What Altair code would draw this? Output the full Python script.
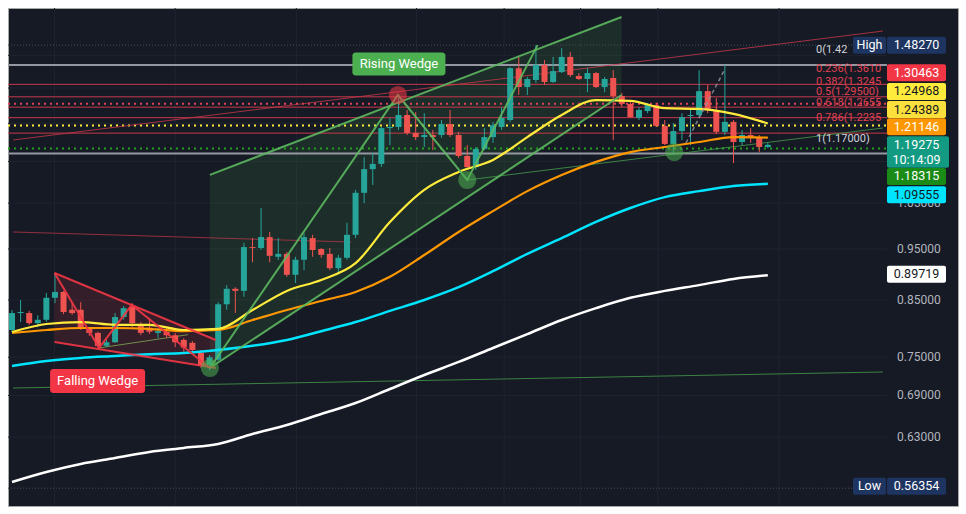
import altair as alt
import pandas as pd

# ---------------- data ----------------
candle_open = [0.796, 0.826, 0.826, 0.808, 0.814, 0.854, 0.865, 0.832, 0.832, 0.800,
               0.791, 0.769, 0.775, 0.819, 0.837, 0.805, 0.800, 0.791, 0.793, 0.787,
               0.779, 0.774, 0.757, 0.7375, 0.746, 0.842, 0.871, 0.867, 0.954, 0.952,
               0.975, 0.934, 0.940, 0.898, 0.928, 0.973, 0.950, 0.940, 0.911, 0.932,
               0.980, 1.074, 1.131, 1.144, 1.237, 1.240, 1.273, 1.224, 1.213, 1.2185,
               1.2185, 1.248, 1.2185, 1.164, 1.136, 1.182, 1.213, 1.240, 1.259, 1.410,
               1.353, 1.374, 1.420, 1.368, 1.398, 1.445, 1.386, 1.377, 1.395, 1.353,
               1.380, 1.327, 1.304, 1.265, 1.284, 1.301, 1.243, 1.195, 1.229, 1.270,
               1.273, 1.341, 1.287, 1.227, 1.254, 1.200, 1.2185, 1.213, 1.187]
candle_high = [0.8315, 0.850, 0.830, 0.822, 0.863, 0.9015, 0.867, 0.846, 0.846, 0.801,
               0.793, 0.779, 0.826, 0.839, 0.844, 0.810, 0.817, 0.800, 0.800, 0.791,
               0.782, 0.777, 0.762, 0.754, 0.846, 0.878, 0.874, 0.963, 0.973, 1.039,
               0.986, 0.973, 0.944, 0.934, 0.984, 0.980, 0.952, 0.952, 0.938, 1.006,
               1.081, 1.161, 1.172, 1.240, 1.265, 1.321, 1.287, 1.281, 1.278, 1.232,
               1.259, 1.287, 1.227, 1.192, 1.187, 1.237, 1.254, 1.295, 1.413, 1.445,
               1.383, 1.4827, 1.435, 1.445, 1.473, 1.461, 1.395, 1.410, 1.398, 1.383,
               1.404, 1.336, 1.315, 1.295, 1.307, 1.307, 1.259, 1.251, 1.278, 1.292,
               1.404, 1.359, 1.321, 1.420, 1.259, 1.232, 1.237, 1.2185, 1.198]
candle_low = [0.7925, 0.810, 0.805, 0.801, 0.810, 0.844, 0.824, 0.823, 0.796, 0.786,
              0.766, 0.767, 0.774, 0.814, 0.801, 0.787, 0.789, 0.782, 0.782, 0.767,
              0.759, 0.759, 0.733, 0.729, 0.744, 0.832, 0.826, 0.856, 0.923, 0.948,
              0.923, 0.9275, 0.894, 0.882, 0.907, 0.934, 0.932, 0.907, 0.903, 0.928,
              0.973, 1.050, 1.0925, 1.136, 1.192, 1.232, 1.2185, 1.205, 1.187, 1.179,
              1.211, 1.213, 1.159, 1.129, 1.129, 1.179, 1.198, 1.232, 1.254, 1.330,
              1.330, 1.365, 1.359, 1.365, 1.395, 1.383, 1.374, 1.338, 1.350, 1.338,
              1.205, 1.295, 1.265, 1.259, 1.278, 1.240, 1.192, 1.172, 1.205, 1.192,
              1.267, 1.278, 1.221, 1.2185, 1.146, 1.192, 1.198, 1.174, 1.184]
candle_close = [0.826, 0.828, 0.808, 0.814, 0.854, 0.865, 0.828, 0.826, 0.800, 0.791,
                0.769, 0.775, 0.819, 0.835, 0.808, 0.791, 0.793, 0.794, 0.787, 0.775,
                0.766, 0.762, 0.736, 0.750, 0.842, 0.871, 0.867, 0.954, 0.952, 0.975,
                0.936, 0.940, 0.898, 0.928, 0.975, 0.948, 0.938, 0.911, 0.932, 0.980,
                1.074, 1.131, 1.144, 1.237, 1.240, 1.273, 1.224, 1.213, 1.2185, 1.213,
                1.248, 1.2185, 1.164, 1.136, 1.182, 1.213, 1.245, 1.265, 1.410, 1.353,
                1.377, 1.420, 1.368, 1.401, 1.445, 1.389, 1.377, 1.395, 1.353, 1.377,
                1.327, 1.304, 1.267, 1.287, 1.301, 1.243, 1.195, 1.229, 1.267, 1.273,
                1.341, 1.287, 1.227, 1.254, 1.200, 1.2185, 1.213, 1.187, 1.19275]

ma_index = list(range(0, 89, 4))
ma_yellow = [0.7925, 0.8065, 0.810, 0.805, 0.805, 0.796, 0.798, 0.8315, 0.867, 0.888, 0.921, 1.0077,
             1.081, 1.124, 1.154, 1.213, 1.273, 1.315, 1.313, 1.292, 1.290, 1.276, 1.24968]
ma_orange = [0.791, 0.796, 0.7995, 0.7995, 0.798, 0.794, 0.796, 0.8136, 0.8315, 0.848, 0.865, 0.894,
             0.9376, 0.986, 1.032, 1.078, 1.1166, 1.149, 1.174, 1.187, 1.200, 1.213, 1.21146]
ma_cyan = [0.7359, 0.744, 0.749, 0.752, 0.755, 0.757, 0.762, 0.769, 0.779, 0.794, 0.810, 0.830,
           0.850, 0.874, 0.905, 0.940, 0.973, 1.008, 1.039, 1.064, 1.078, 1.090, 1.09555]
ma_white = [0.5712, 0.5838, 0.5941, 0.6019, 0.610, 0.6153, 0.6207, 0.6344, 0.6469, 0.6626, 0.6787, 0.6998,
            0.7215, 0.7424, 0.7654, 0.789, 0.8136, 0.835, 0.854, 0.867, 0.878, 0.890, 0.89719]

fib_prices = [1.42, 1.361, 1.3245, 1.295, 1.2655, 1.2235, 1.17]
# the part of each level caption that is left visible beside the price tags
fib_labels = ["0(1.42", "0.236(1.3610", "0.382(1.3245", "0.5(1.29500)",
              "0.618(1.2655", "0.786(1.2235", "1(1.17000)"]

price_lines = [1.48270, 1.30463, 1.24389, 1.18315, 0.56354]

tag_values = [1.48270, 1.30463, 1.24968, 1.24389, 1.21146, 1.19275, 1.18315, 1.09555, 0.89719, 0.56354]
countdown = "10:14:09"

axis_ticks = [0.63, 0.69, 0.75, 0.85, 0.95, 1.05]
grid_prices = [0.63, 0.69, 0.75, 0.85, 0.95, 1.05, 1.15, 1.25, 1.35, 1.45]
time_grid = [4.95, 19.0, 33.1, 47.1, 57.3, 66.2, 75.2, 89.3]

# pattern anchor points: (bar index, price)
rising_upper = [(23.04, 1.117), (70.97, 1.5766)]
rising_lower = [(23.04, 0.7327), (70.97, 1.3297)]
rising_path = [(23.04, 0.7327), (44.93, 1.3297), (53.0, 1.1045), (61.2, 1.4827)]
falling_upper = [(4.95, 0.9015), (23.73, 0.7788)]
falling_lower = [(4.95, 0.7754), (23.73, 0.7327)]
falling_path = [(4.95, 0.9015), (10.14, 0.7654), (13.94, 0.8407), (23.04, 0.7327)]
trend_red_a = [(0.115, 1.2053), (101.4, 1.529)]
trend_red_b = [(0.115, 0.986), (39.5, 0.9646)]
trend_green_a = [(0.115, 0.7013), (101.4, 0.7263)]
trend_green_b = [(53.0, 1.1045), (101.4, 1.2373)]
trend_green_c = [(10.14, 0.7654), (20.5, 0.788)]
projection = [(78.46, 1.1974), (82.95, 1.4043)]
red_pivots = [(44.93, 1.3297)]
green_pivots = [(23.04, 0.7327), (53.0, 1.1045), (77.1, 1.174)]
pattern_names = ["Rising Wedge", "Falling Wedge"]
pattern_anchor = [(44.93, 1.3297), (10.14, 0.7654)]

# ---------------- styles ----------------
BG = "#161a25"
UP = "#26a69a"
DOWN = "#ef5350"
FONT = "Roboto"
W, H = 950, 498
AXIS_X = 879  # left edge of the price scale inside the panel

X = alt.Scale(domain=[0.115, 109.56], nice=False, zero=False)
Y = alt.Scale(type="log", domain=[0.54205, 1.60792], nice=False, zero=False)


def ex(f="x"):
    return alt.X(f"{f}:Q", scale=X, axis=None)


def ey(f="y"):
    return alt.Y(f"{f}:Q", scale=Y, axis=None)


def path_df(paths):
    rows = []
    for name, pts in paths:
        for k, (x, y) in enumerate(pts):
            rows.append({"seg": name, "ord": k, "x": x, "y": y})
    return pd.DataFrame(rows)


layers = []

# grid
layers.append(alt.Chart(pd.DataFrame({"x": time_grid})).mark_rule(color="#1f2330", strokeWidth=1).encode(
    x=ex("x"), y=alt.value(0), y2=alt.value(H)))
layers.append(alt.Chart(pd.DataFrame({"y": grid_prices})).mark_rule(color="#1f2330", strokeWidth=1).encode(
    y=ey("y"), x=alt.value(0), x2=alt.value(AXIS_X)))

# price scale labels
layers.append(alt.Chart(pd.DataFrame({"p": axis_ticks, "t": [f"{v:.5f}" for v in axis_ticks]})).mark_text(
    align="left", baseline="middle", color="#b2b5be", font=FONT, fontSize=12).encode(
    x=alt.value(AXIS_X + 10), y=ey("p"), text="t:N"))

# wedge fills
rw = pd.DataFrame({"x": [p[0] for p in rising_upper], "top": [p[1] for p in rising_upper],
                   "bot": [p[1] for p in rising_lower]})
layers.append(alt.Chart(rw).mark_area(color="#4caf50", opacity=0.13).encode(
    x=ex("x"), y=ey("top"), y2="bot:Q"))
fw = pd.DataFrame({"x": [p[0] for p in falling_upper], "top": [p[1] for p in falling_upper],
                   "bot": [p[1] for p in falling_lower]})
layers.append(alt.Chart(fw).mark_area(color="#f23645", opacity=0.14).encode(
    x=ex("x"), y=ey("top"), y2="bot:Q"))

# fib lines
fib_col = ["#9598a1"] + ["#c7384a"] * 5 + ["#9598a1"]
fib_w = [2] + [1] * 5 + [2]
fdf = pd.DataFrame({"p": fib_prices, "c": fib_col, "w": fib_w})
layers.append(alt.Chart(fdf).mark_rule().encode(
    y=ey("p"), x=alt.value(0), x2=alt.value(AXIS_X),
    color=alt.Color("c:N", scale=None), strokeWidth=alt.StrokeWidth("w:Q", scale=None)))

# dotted price lines
pl_col = ["#4a4e5a", "#e2415a", "#ffeb3b", "#22a11c", "#4a4e5a"]
pl_w = [1, 2, 2, 2, 1]
for v, c, w in zip(price_lines, pl_col, pl_w):
    layers.append(alt.Chart(pd.DataFrame({"p": [v]})).mark_rule(
        color=c, strokeWidth=w, strokeDash=[2, 4] if w == 2 else [1, 2]).encode(
        y=ey("p"), x=alt.value(0), x2=alt.value(AXIS_X)))

# thin trend lines
thin = [("ra", trend_red_a, "#c7384a", 1, 0.8), ("rb", trend_red_b, "#c7384a", 1, 0.7),
        ("ga", trend_green_a, "#4caf50", 1, 0.7), ("gb", trend_green_b, "#4caf50", 1, 0.7),
        ("gc", trend_green_c, "#8bbf5a", 1, 0.7)]
for name, pts, c, w, op in thin:
    layers.append(alt.Chart(path_df([(name, pts)])).mark_line(color=c, strokeWidth=w, opacity=op, clip=True).encode(
        x=ex("x"), y=ey("y"), order="ord:Q"))

# candles
df_c = pd.DataFrame({"i": list(range(len(candle_open))), "o": candle_open, "h": candle_high,
                     "l": candle_low, "c": candle_close})
df_c["dir"] = ["up" if c >= o else "down" for o, c in zip(candle_open, candle_close)]
ccol = alt.Color("dir:N", scale=alt.Scale(domain=["up", "down"], range=[UP, DOWN]), legend=None)
layers.append(alt.Chart(df_c).mark_rule(strokeWidth=1, clip=True).encode(
    x=ex("i"), y=ey("l"), y2="h:Q", color=ccol))
layers.append(alt.Chart(df_c).mark_bar(size=6, clip=True).encode(
    x=ex("i"), y=ey("o"), y2="c:Q", color=ccol))

# moving averages
for vals, c, w in [(ma_white, "#ffffff", 2.5), (ma_cyan, "#00e5ff", 2.5),
                   (ma_orange, "#ff9800", 2.2), (ma_yellow, "#ffeb3b", 2.2)]:
    layers.append(alt.Chart(pd.DataFrame({"x": ma_index, "y": vals})).mark_line(
        color=c, strokeWidth=w, interpolate="monotone", clip=True).encode(x=ex("x"), y=ey("y")))

# wedge drawings
layers.append(alt.Chart(path_df([("u", rising_upper), ("l", rising_lower), ("z", rising_path)])).mark_line(
    color="#5cb85f", strokeWidth=2, opacity=0.9, clip=True).encode(x=ex("x"), y=ey("y"), detail="seg:N", order="ord:Q"))
layers.append(alt.Chart(path_df([("u", falling_upper), ("l", falling_lower), ("z", falling_path)])).mark_line(
    color="#f23645", strokeWidth=2, opacity=0.9, clip=True).encode(x=ex("x"), y=ey("y"), detail="seg:N", order="ord:Q"))
layers.append(alt.Chart(path_df([("p", projection)])).mark_line(
    color="#9598a1", strokeWidth=1.5, strokeDash=[4, 3], opacity=0.8).encode(x=ex("x"), y=ey("y"), order="ord:Q"))

# pivot circles
layers.append(alt.Chart(pd.DataFrame({"x": [p[0] for p in red_pivots], "y": [p[1] for p in red_pivots]})).mark_circle(
    size=330, color="#f23645", opacity=0.55).encode(x=ex("x"), y=ey("y")))
layers.append(alt.Chart(pd.DataFrame({"x": [p[0] for p in green_pivots], "y": [p[1] for p in green_pivots]})).mark_circle(
    size=330, color="#4caf50", opacity=0.55).encode(x=ex("x"), y=ey("y")))

# pattern labels
label_style = [("#4caf50", -31, 1, 93, 23), ("#f23645", 33, -1.5, 95, 24)]
for name, (ax, ay), (fill, dy, dx, bw, bh) in zip(pattern_names, pattern_anchor, label_style):
    d = pd.DataFrame({"x": [ax], "y": [ay], "t": [name]})
    layers.append(alt.Chart(d).mark_rect(color=fill, cornerRadius=3,
                                         xOffset=dx - bw / 2, x2Offset=dx + bw / 2,
                                         yOffset=dy - bh / 2, y2Offset=dy + bh / 2).encode(
        x=ex("x"), x2="x:Q", y=ey("y"), y2="y:Q"))
    layers.append(alt.Chart(d).mark_text(color="white", font=FONT, fontSize=13, dx=dx, dy=dy,
                                         baseline="middle", align="center").encode(
        x=ex("x"), y=ey("y"), text="t:N"))

# fib texts
fib_txt_col = ["#d1d4dc"] + ["#e0404f"] * 5 + ["#d1d4dc"]
fdf2 = pd.DataFrame({"p": fib_prices, "t": fib_labels, "c": fib_txt_col})
layers.append(alt.Chart(fdf2).mark_text(align="left", baseline="middle", dy=-15, font=FONT, fontSize=11).encode(
    x=alt.value(808), y=ey("p"), text="t:N", color=alt.Color("c:N", scale=None)))

# price scale tags
tag_fill = ["#1e3461", "#f23645", "#ffeb3b", "#fbe03d", "#ff9800", "#129b82", "#1a8b16", "#00e5ff", "#ffffff", "#1e3461"]
tag_ink = ["white", "white", "#131722", "#131722", "white", "white", "white", "#131722", "#131722", "white"]
tag_shift = [0, -31, -32, -16, -11, 0, 28, 11, -1, -2]
for k, (v, f, ink, s) in enumerate(zip(tag_values, tag_fill, tag_ink, tag_shift)):
    d = pd.DataFrame({"p": [v], "t": [f"{v:.5f}"]})
    top, bot = (s - 8.5, s + 8.5) if k != 5 else (-8.5, 23)
    layers.append(alt.Chart(d).mark_rect(color=f, cornerRadius=2, yOffset=top, y2Offset=bot).encode(
        x=alt.value(AXIS_X), x2=alt.value(AXIS_X + (62 if k == 5 else 59)), y=ey("p"), y2="p:Q"))
    layers.append(alt.Chart(d).mark_text(color=ink, font=FONT, fontSize=12.5, dy=s, align="center",
                                         baseline="middle").encode(
        x=alt.value(AXIS_X + 29.5), y=ey("p"), text="t:N"))
    if k == 5:
        d2 = pd.DataFrame({"p": [v], "t": [countdown]})
        layers.append(alt.Chart(d2).mark_text(color="white", font=FONT, fontSize=12.5, dy=15, align="center",
                                              baseline="middle").encode(
            x=alt.value(AXIS_X + 29.5), y=ey("p"), text="t:N"))
    if k in (0, 9):
        d3 = pd.DataFrame({"p": [v], "t": ["High" if k == 0 else "Low"]})
        layers.append(alt.Chart(d3).mark_rect(color=f, cornerRadius=2, yOffset=top, y2Offset=bot).encode(
            x=alt.value(AXIS_X - 34), x2=alt.value(AXIS_X - 1), y=ey("p"), y2="p:Q"))
        layers.append(alt.Chart(d3).mark_text(color="white", font=FONT, fontSize=12.5, dy=s, align="center",
                                              baseline="middle").encode(
            x=alt.value(AXIS_X - 17.5), y=ey("p"), text="t:N"))

chart = alt.layer(*layers).properties(
    width=W, height=H, background="white",
    padding={"left": 8, "top": 8, "right": 8, "bottom": 8},
    autosize=alt.AutoSizeParams(type="none"),
).configure_view(fill=BG, stroke="#a8a8a8", strokeWidth=1)

chart.save("out.html", embed_options={"renderer": "svg", "actions": False})
